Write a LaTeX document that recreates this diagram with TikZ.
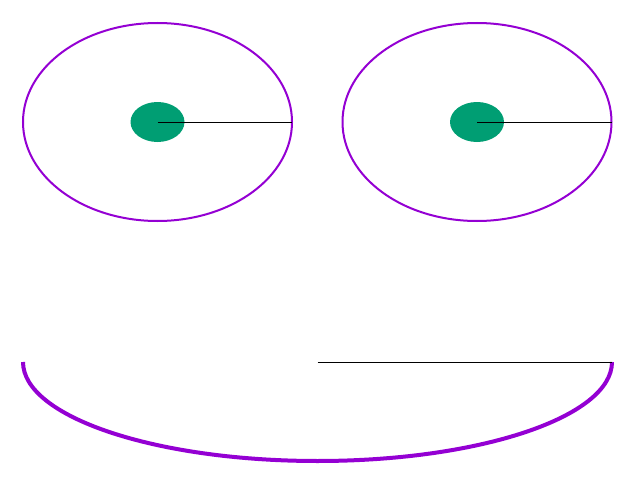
\documentclass[tikz,border=0pt]{standalone}
\usepackage{tikz}
\definecolor{facepurple}{RGB}{148,0,211}
\definecolor{pupilgreen}{RGB}{0,158,115}

\begin{document}
\begin{tikzpicture} [
    x=0.025cm, y=-0.025cm,
    eye/.style={draw=facepurple, line width=0.05cm},
    pupil/.style={fill=pupilgreen},
    radius line/.style={draw=black, line width=0.025cm},
    mouth/.style={draw=facepurple, line width=0.1cm}
    ]
    \useasboundingbox (0,0) rectangle (640,480);
    %Centres
    \coordinate (lc) at (157.5,122);
    \coordinate (rc) at (477,122);
    \coordinate (mc) at (317.5,362);
    %Eyes
    \draw[eye]   (lc) ellipse [x radius=134.5, y radius=99];
    \draw[eye]   (rc) ellipse [x radius=134.5, y radius=99];
    \fill[pupil] (lc) ellipse [x radius=27, y radius=20];
    \fill[pupil] (rc) ellipse [x radius=27, y radius=20];
    \draw[radius line] (lc) -- ++(134.5,0);
    \draw[radius line] (rc) -- ++(134.5,0);
    %Mouth
    \draw[mouth] (mc) ++(-294.5,0) arc [start angle=180, end angle=0, x radius=294.5, y radius=99];
    \draw[radius line] (mc) -- ++(294.5,0);
\end{tikzpicture}
\end{document}
